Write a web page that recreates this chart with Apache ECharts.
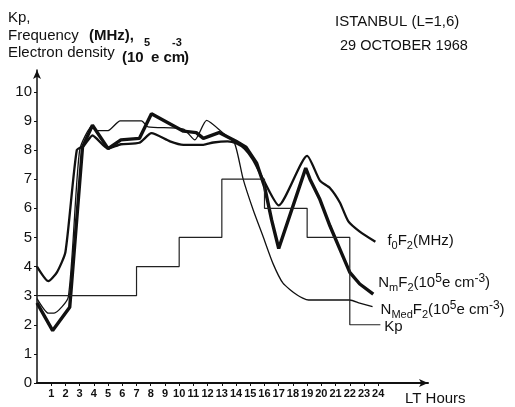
<!DOCTYPE html>
<html>
<head>
<meta charset="utf-8">
<script src="https://cdn.jsdelivr.net/npm/echarts@6.0.0/dist/echarts.min.js"></script>
<style>
  html, body { margin: 0; padding: 0; background: #fff; }
  #chart { width: 515px; height: 407px; }
</style>
</head>
<body>
<div id="chart"></div>
<script>
// hours / values
const hourTicks = [1, 2, 3, 4, 5, 6, 7, 8, 9, 10, 11, 12, 13, 14, 15, 16, 17, 18, 19, 20, 21, 22, 23, 24]
const valueTicks = [0, 1, 2, 3, 4, 5, 6, 7, 8, 9, 10]

const fofHours = [0, 0.8, 1.4, 2.0, 2.8, 3.3, 3.9, 5.0, 5.9, 7.2, 8.05, 9.35, 10.3, 11.7, 12.4, 13.4, 14.0, 14.6, 15.2, 15.9, 17.0, 19.0, 19.9, 20.6, 21.3, 21.9, 22.7, 23.8]
const fofValues = [4.0, 3.5, 3.8, 4.5, 8.0, 8.15, 8.5, 8.05, 8.2, 8.25, 8.58, 8.3, 8.18, 8.18, 8.26, 8.3, 8.24, 8.05, 7.66, 7.0, 6.1, 7.8, 6.95, 6.7, 6.2, 5.55, 5.2, 4.85]

const nmHours = [0, 1.1, 2.3, 3.2, 3.9, 5.0, 5.9, 7.2, 8.05, 10.3, 11.2, 11.7, 12.8, 14.0, 14.7, 15.45, 16.0, 16.5, 17.0, 18.9, 19.2, 19.9, 20.6, 21.3, 22.0, 22.7, 23.65]
const nmValues = [2.75, 1.8, 2.6, 8.1, 8.85, 8.05, 8.35, 8.4, 9.25, 8.65, 8.6, 8.4, 8.6, 8.3, 8.1, 7.55, 6.75, 5.6, 4.62, 7.38, 7.0, 6.3, 5.4, 4.6, 3.8, 3.4, 3.05]

const medHours = [0, 0.8, 1.2, 2.2, 3.0, 3.9, 4.2, 5.0, 5.85, 7.35, 7.8, 10.3, 11.1, 11.93, 13.1, 13.9, 14.5, 15.2, 15.9, 16.6, 17.3, 18.3, 19.1, 22.0, 22.7, 23.6]
const medValues = [2.9, 2.4, 2.4, 2.95, 8.0, 8.85, 8.67, 8.67, 9.0, 9.0, 8.8, 8.72, 8.35, 9.02, 8.58, 8.23, 7.0, 5.95, 5.03, 4.1, 3.43, 3.02, 2.85, 2.85, 2.74, 2.62]

const kpHours = [0, 7, 10, 13, 16, 19, 22, 24.15]
const kpValues = [3, 4, 5, 7, 6, 5, 2, 2]

const pairs = (xs, ys) => xs.map((x, i) => [x, ys[i]])

const FONT = "'Liberation Sans Narrow', 'Liberation Sans', Arial, sans-serif"
const INK = '#111'

// sub/superscripts for the curve names
const supRich = {
  sub: { fontSize: 11, verticalAlign: 'bottom', fontFamily: FONT, color: INK },
  sup: { fontSize: 12, verticalAlign: 'top', fontFamily: FONT, color: INK }
}

const endLabel = (formatter, distance, offset) => ({
  show: true,
  formatter,
  distance,
  offset,
  fontSize: 15,
  lineHeight: 21,
  fontFamily: FONT,
  color: INK,
  rich: supRich
})

const chart = echarts.init(document.getElementById('chart'), null, { renderer: 'canvas' })

chart.setOption({
  animation: false,
  backgroundColor: '#fff',
  grid: { left: 37, right: 87, top: 70, bottom: 24 },
  xAxis: {
    type: 'value',
    min: 0,
    max: 27.5,
    axisLine: {
      show: true,
      symbol: ['none', 'arrow'],
      symbolSize: [6, 9],
      lineStyle: { color: INK, width: 2 }
    },
    axisTick: { show: true, customValues: hourTicks, length: 3, lineStyle: { color: INK } },
    axisLabel: {
      customValues: hourTicks,
      margin: 5,
      fontSize: 11,
      fontWeight: 'bold',
      fontFamily: FONT,
      color: INK
    },
    splitLine: { show: false }
  },
  yAxis: {
    type: 'value',
    min: 0,
    max: 10.75,
    axisLine: {
      show: true,
      symbol: ['none', 'arrow'],
      symbolSize: [6, 9],
      lineStyle: { color: INK, width: 1.5 }
    },
    axisTick: { show: true, customValues: valueTicks, length: 3, lineStyle: { color: INK } },
    axisLabel: {
      customValues: valueTicks,
      margin: 5,
      fontSize: 15,
      fontFamily: FONT,
      color: INK
    },
    splitLine: { show: false }
  },
  series: [
    {
      name: 'f0F2',
      type: 'line',
      data: pairs(fofHours, fofValues),
      showSymbol: false,
      smooth: 0.2,
      lineStyle: { color: INK, width: 2.3 },
      endLabel: endLabel('f{sub|0}F{sub|2}(MHz)', 12, [0, -1])
    },
    {
      name: 'NmF2',
      type: 'line',
      data: pairs(nmHours, nmValues),
      showSymbol: false,
      lineStyle: { color: INK, width: 3.4 },
      endLabel: endLabel('N{sub|m}F{sub|2}(10{sup|5}e cm{sup|-3})', 5, [0, -11])
    },
    {
      name: 'NMedF2',
      type: 'line',
      data: pairs(medHours, medValues),
      showSymbol: false,
      smooth: 0.2,
      lineStyle: { color: INK, width: 1.3 },
      endLabel: endLabel('N{sub|Med}F{sub|2}(10{sup|5}e cm{sup|-3})', 8, [0, 3])
    },
    {
      name: 'Kp',
      type: 'line',
      step: 'end',
      data: pairs(kpHours, kpValues),
      showSymbol: false,
      lineStyle: { color: '#222', width: 1.2 },
      endLabel: endLabel('Kp', 4, [0, 2])
    }
  ],
  graphic: [
    { type: 'text', x: 8, y: 18, style: { text: 'Kp,', font: '15px ' + FONT, fill: INK, verticalAlign: 'middle' } },
    { type: 'text', x: 8, y: 36, style: { text: 'Frequency', font: '15px ' + FONT, fill: INK, verticalAlign: 'middle' } },
    { type: 'text', x: 89, y: 36, style: { text: '(MHz),', font: 'bold 15px ' + FONT, fill: INK, verticalAlign: 'middle' } },
    { type: 'text', x: 8, y: 53, style: { text: 'Electron density', font: '15px ' + FONT, fill: INK, verticalAlign: 'middle' } },
    { type: 'text', x: 122, y: 58, style: { text: '(10', font: 'bold 15px ' + FONT, fill: INK, verticalAlign: 'middle' } },
    { type: 'text', x: 144, y: 43, style: { text: '5', font: 'bold 11px ' + FONT, fill: INK, verticalAlign: 'middle' } },
    { type: 'text', x: 151, y: 58, style: { text: 'e cm', font: 'bold 15px ' + FONT, fill: INK, verticalAlign: 'middle' } },
    { type: 'text', x: 172, y: 43, style: { text: '-3', font: 'bold 11px ' + FONT, fill: INK, verticalAlign: 'middle' } },
    { type: 'text', x: 184, y: 58, style: { text: ')', font: 'bold 15px ' + FONT, fill: INK, verticalAlign: 'middle' } },
    { type: 'text', x: 335, y: 22, style: { text: 'ISTANBUL (L=1,6)', font: '15px ' + FONT, fill: INK, verticalAlign: 'middle' } },
    { type: 'text', x: 340, y: 46, style: { text: '29 OCTOBER 1968', font: '14.5px ' + FONT, fill: INK, verticalAlign: 'middle' } },
    { type: 'text', x: 405, y: 399, style: { text: 'LT Hours', font: '15px ' + FONT, fill: INK, verticalAlign: 'middle' } }
  ]
})
</script>
</body>
</html>
